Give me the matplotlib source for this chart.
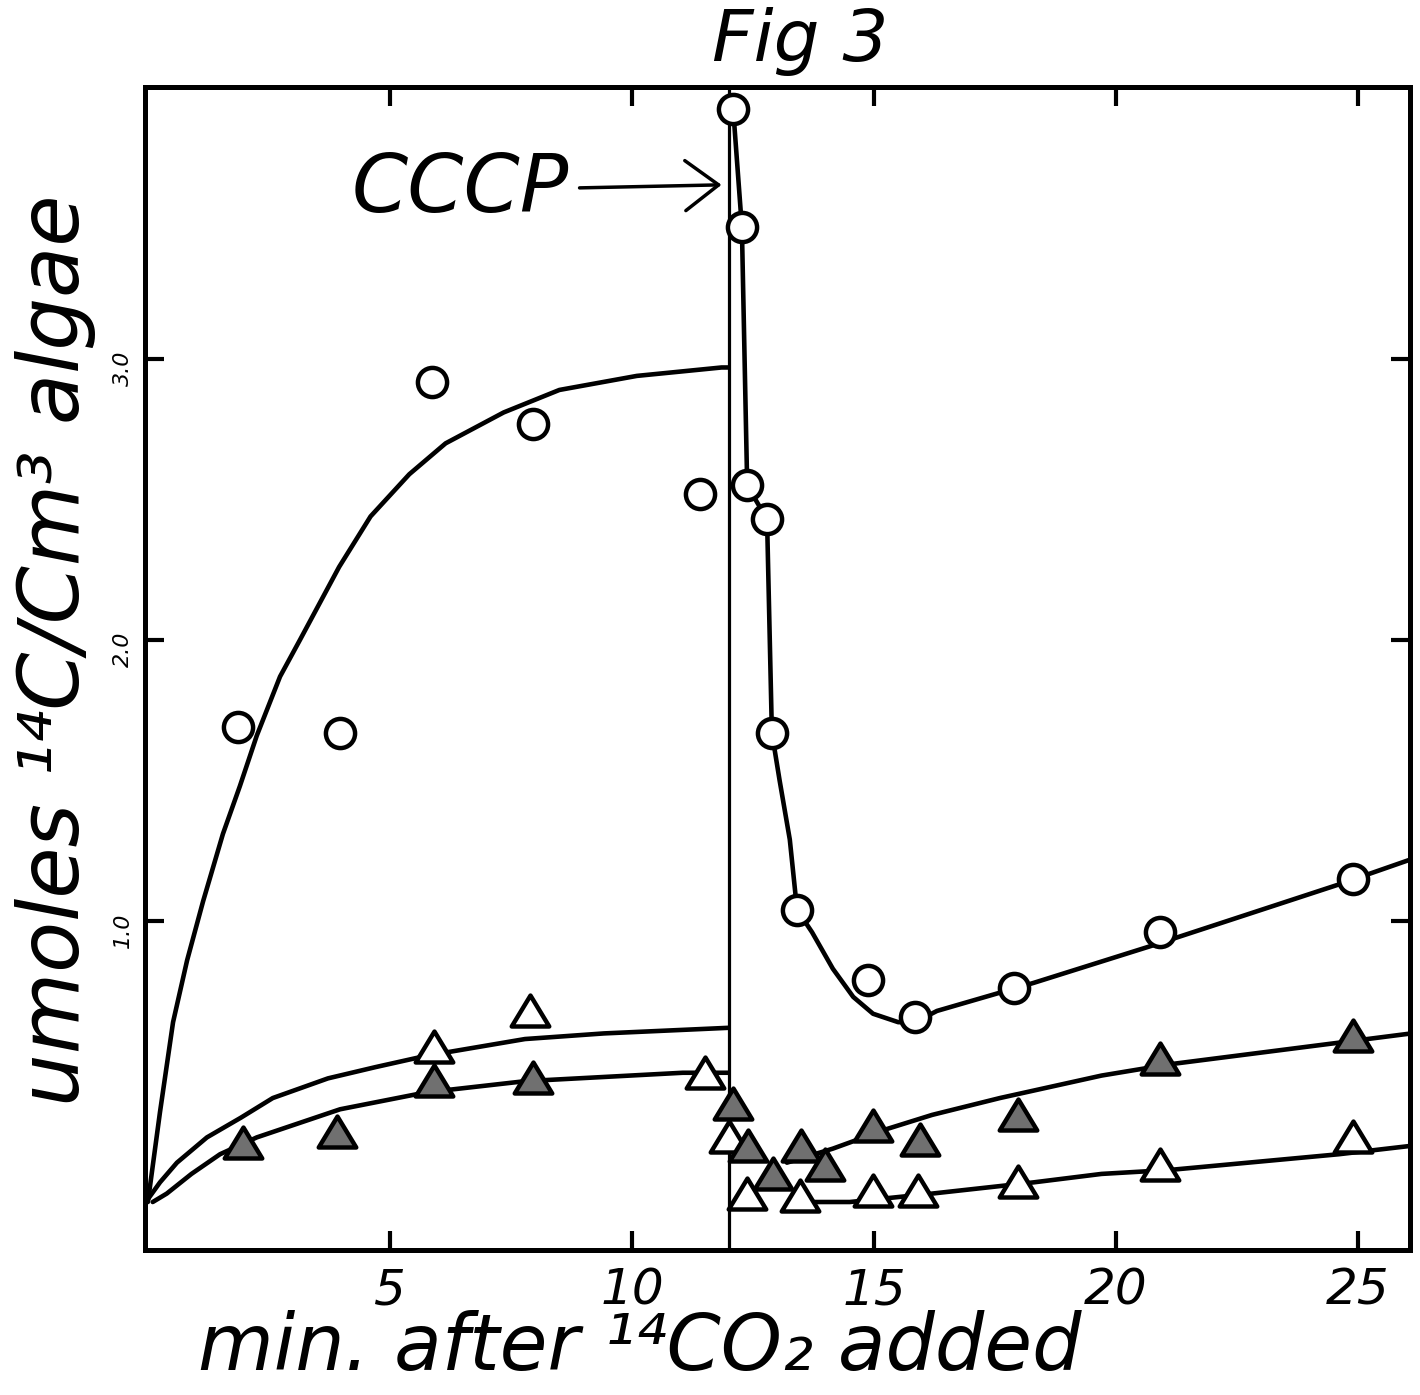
import matplotlib
matplotlib.use('Agg')
import matplotlib.pyplot as plt
from matplotlib.path import Path

# circles: total 14C fixed, before and after CCCP
circ_x_pre = [1.86, 3.97, 5.87, 7.95, 11.4]
circ_y_pre = [1.69, 1.67, 2.92, 2.77, 2.52]
circ_x_post = [12.09, 12.27, 12.38, 12.79, 12.89, 13.41, 14.88, 15.85, 17.9, 20.9, 24.9]
circ_y_post = [3.89, 3.47, 2.55, 2.43, 1.67, 1.04, 0.79, 0.66, 0.76, 0.96, 1.15]

# triangles
tri_open_x = [5.9, 7.9, 11.5, 12.0, 12.38, 13.47, 14.98, 15.9, 17.98, 20.9, 24.9]
tri_open_y = [0.55, 0.68, 0.46, 0.23, 0.03, 0.02, 0.04, 0.04, 0.07, 0.13, 0.23]
tri_fill_x = [1.96, 3.9, 5.9, 7.95, 12.09, 12.4, 12.91, 13.5, 13.99, 14.98, 15.95, 17.98, 20.9, 24.9]
tri_fill_y = [0.21, 0.25, 0.43, 0.44, 0.35, 0.20, 0.10, 0.20, 0.13, 0.27, 0.22, 0.31, 0.51, 0.59]

# hand drawn curves
circ_curve_pre_x = [0, 0.25, 0.52, 0.81, 1.14, 1.55, 1.90, 2.25, 2.73, 3.14, 3.95, 4.6, 5.4, 6.15, 7.35,
                    8.5, 10.1, 11.85, 12.0]
circ_curve_pre_y = [0.0, 0.32, 0.64, 0.86, 1.07, 1.31, 1.48, 1.66, 1.87, 2.0, 2.26, 2.44, 2.59, 2.70, 2.81,
                    2.89, 2.94, 2.97, 2.97]
circ_curve_post_x = [12.09, 12.27, 12.38, 12.79, 12.89, 13.05, 13.26, 13.41, 13.72, 14.15, 14.57, 14.98, 15.5,
                     15.85, 16.3, 17.7, 18.3, 20.7, 24.6, 26.1]
circ_curve_post_y = [3.89, 3.47, 2.55, 2.43, 1.67, 1.50, 1.29, 1.04, 0.96, 0.83, 0.73, 0.67, 0.64,
                     0.64, 0.68, 0.75, 0.78, 0.91, 1.13, 1.22]
tri_up_pre_x = [0, 0.25, 0.6, 1.22, 1.92, 2.58, 3.72, 4.7, 5.74, 7.79, 9.42, 12.0]
tri_up_pre_y = [0.01, 0.07, 0.14, 0.23, 0.30, 0.37, 0.44, 0.48, 0.52, 0.58, 0.60, 0.62]
tri_low_pre_x = [0.1, 0.39, 0.9, 1.49, 2.25, 3.97, 5.74, 7.79, 11.05, 12.0]
tri_low_pre_y = [0.0, 0.03, 0.10, 0.17, 0.23, 0.33, 0.39, 0.43, 0.46, 0.46]
tri_up_post_x = [13.2, 14.15, 15.27, 16.2, 17.6, 19.7, 21.1, 26.1]
tri_up_post_y = [0.14, 0.19, 0.26, 0.31, 0.37, 0.45, 0.49, 0.60]
tri_low_post_x = [13.7, 14.5, 16.2, 18.3, 19.7, 21.1, 24.6, 26.1]
tri_low_post_y = [0.0, 0.0, 0.03, 0.07, 0.10, 0.114, 0.17, 0.20]

x_ticks = [5, 10, 15, 20, 25]
y_ticks = [1.0, 2.0, 3.0]
y_tick_labels = ['1.0', '2.0', '3.0']
cccp_time = 12.0

plt.rcParams['font.family'] = ['DejaVu Sans']

fig = plt.figure(figsize=(14.2, 13.95), dpi=100)
ax = fig.add_axes([0.1021, 0.1039, 0.8908, 0.8337])

# triangle a bit wider than tall
tri = Path([(-1, -0.8), (1, -0.8), (0, 0.85), (-1, -0.8)], closed=True)

ax.axvline(cccp_time, color='black', lw=2.3, zorder=2)
for xs, ys in [(circ_curve_pre_x, circ_curve_pre_y), (circ_curve_post_x, circ_curve_post_y),
               (tri_up_pre_x, tri_up_pre_y), (tri_low_pre_x, tri_low_pre_y),
               (tri_up_post_x, tri_up_post_y), (tri_low_post_x, tri_low_post_y)]:
    ax.plot(xs, ys, color='black', lw=3.3, solid_capstyle='round', solid_joinstyle='round', zorder=3)

ax.plot(circ_x_pre + circ_x_post, circ_y_pre + circ_y_post, 'o', ms=21, mfc='white',
        mec='black', mew=3.2, zorder=5)
ax.plot(tri_open_x, tri_open_y, marker=tri, ls='none', ms=27, mfc='white', mec='black',
        mew=3.2, zorder=5)
ax.plot(tri_fill_x, tri_fill_y, marker=tri, ls='none', ms=27, mfc='#707070', mec='black',
        mew=3.2, zorder=6)

ax.set_xlim(-0.06, 26.07)
ax.set_ylim(-0.171, 3.968)
ax.set_xticks(x_ticks)
ax.set_xticklabels([str(t) for t in x_ticks], fontsize=36, style='italic')
ax.set_yticks(y_ticks)
ax.set_yticklabels(y_tick_labels, fontsize=16, style='italic')
ax.tick_params(direction='in', length=14, width=3, top=True, right=True)
ax.tick_params(axis='x', pad=12)
ax.tick_params(axis='y', pad=9, labelrotation=90)
for s in ax.spines.values():
    s.set_linewidth(3.6)

ax.annotate('CCCP', xy=(11.85, 3.62), xytext=(4.2, 3.60), fontsize=58, style='italic',
            va='center', ha='left',
            arrowprops=dict(arrowstyle='->,head_length=0.6,head_width=0.45', lw=2.5,
                            mutation_scale=40, color='black', shrinkA=6, shrinkB=0))

fig.text(800 / 1420, 1 - 42 / 1395, 'Fig 3', ha='center', va='center', fontsize=52, style='italic')
fig.text(640 / 1420, 1 - 1348 / 1395, 'min. after ¹⁴CO₂ added', ha='center', va='center',
         fontsize=56, style='italic')
fig.text(56 / 1420, 1 - 650 / 1395, 'umoles ¹⁴C/Cm³ algae', ha='center', va='center',
         rotation=90, fontsize=60, style='italic')

fig.savefig('out.png', dpi=100, facecolor='white')
